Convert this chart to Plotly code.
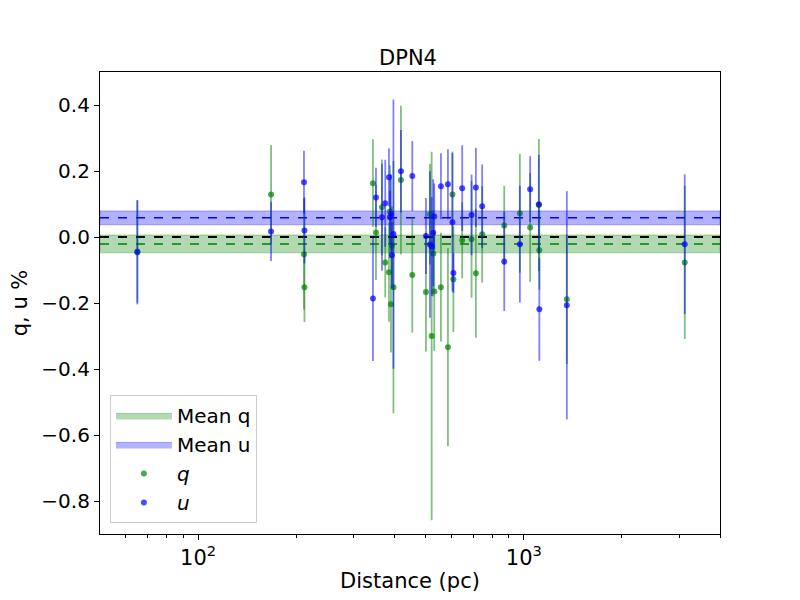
import numpy as np
import plotly.graph_objects as go

# distances (pc) and polarisation values
dist = [65.1, 167.5, 211.4, 212.1, 344.2, 351.6, 366.8, 375.4, 385.4, 388.1,
        390.9, 393.6, 397.8, 419.5, 454.5, 500.6, 514.9, 521.2, 527.1, 530.8,
        556.5, 584.7, 603.5, 607.7, 646.7, 691.0, 712.4, 744.8, 870.5, 972.1,
        1045.5, 1111.8, 1115.6, 1355.0, 3118.0]
q = [-0.044, 0.129, -0.052, -0.152, 0.163, 0.014, 0.090, -0.077, -0.107, 0.077,
     -0.204, -0.026, -0.152, 0.173, -0.115, -0.167, 0.069, -0.300, -0.050, -0.165,
     -0.152, -0.334, 0.129, -0.128, -0.010, -0.007, -0.110, 0.008, 0.035, 0.072,
     0.029, 0.097, -0.040, -0.189, -0.077]
q_err = [0.155, 0.150, 0.168, 0.106, 0.133, 0.144, 0.145, 0.106, 0.150, 0.140,
         0.146, 0.120, 0.382, 0.225, 0.175, 0.180, 0.152, 0.558, 0.130, 0.180,
         0.165, 0.300, 0.130, 0.160, 0.115, 0.177, 0.195, 0.146, 0.120, 0.180,
         0.165, 0.200, 0.120, 0.196, 0.232]
u = [-0.046, 0.017, 0.166, 0.020, -0.186, 0.120, 0.060, 0.102, 0.181, 0.060,
     0.070, -0.055, 0.009, 0.199, 0.185, 0.003, -0.023, -0.029, 0.013, 0.062,
     0.154, 0.160, 0.045, -0.109, 0.148, 0.067, 0.150, 0.093, -0.074, -0.022,
     0.145, 0.099, -0.219, -0.207, -0.022]
u_err = [0.158, 0.090, 0.095, 0.100, 0.190, 0.090, 0.162, 0.132, 0.088, 0.080,
         0.120, 0.100, 0.408, 0.125, 0.106, 0.115, 0.222, 0.150, 0.162, 0.100,
         0.100, 0.106, 0.210, 0.060, 0.130, 0.122, 0.120, 0.127, 0.150, 0.177,
         0.100, 0.150, 0.156, 0.346, 0.212]

mean_q, mean_q_err = -0.021, 0.027
mean_u, mean_u_err = 0.058, 0.021
x_lim = [50, 4000]
y_lim = [-0.9, 0.5]

fig = go.Figure()

# mean bands (axhspan look-alike)
for m, e, rgb, name, rank in [(mean_q, mean_q_err, "0,128,0", "Mean q", 1),
                               (mean_u, mean_u_err, "0,0,255", "Mean u", 2)]:
    fig.add_trace(go.Scatter(
        x=[x_lim[0], x_lim[1], x_lim[1], x_lim[0], x_lim[0]],
        y=[m - e, m - e, m + e, m + e, m - e],
        mode="lines", fill="toself",
        fillcolor="rgba(%s,0.3)" % rgb,
        line=dict(color="rgba(%s,0.3)" % rgb, width=1),
        name=name, legendrank=rank, hoverinfo="skip"))

# dashed lines
fig.add_trace(go.Scatter(x=x_lim, y=[0, 0], mode="lines",
                         line=dict(color="black", dash="dash", width=1.8),
                         showlegend=False))
fig.add_trace(go.Scatter(x=x_lim, y=[mean_q, mean_q], mode="lines",
                         line=dict(color="green", dash="dash", width=1.5),
                         showlegend=False))
fig.add_trace(go.Scatter(x=x_lim, y=[mean_u, mean_u], mode="lines",
                         line=dict(color="blue", dash="dash", width=1.5),
                         showlegend=False))

# data points with error bars
fig.add_trace(go.Scatter(
    x=dist, y=q, mode="markers", name="<i>q</i>", legendrank=3,
    marker=dict(color="rgba(0,128,0,0.7)", size=6),
    error_y=dict(type="data", array=q_err, color="rgba(0,128,0,0.5)",
                 thickness=1.8, width=0)))
fig.add_trace(go.Scatter(
    x=dist, y=u, mode="markers", name="<i>u</i>", legendrank=4,
    marker=dict(color="rgba(0,0,255,0.7)", size=6),
    error_y=dict(type="data", array=u_err, color="rgba(0,0,255,0.5)",
                 thickness=1.8, width=0)))

minor_vals = [60, 70, 80, 90, 200, 300, 400, 500, 600, 700, 800, 900,
              2000, 3000, 4000]

# page body has an 8px offset, margins compensate for it
fig.update_layout(
    width=800, height=600,
    margin=dict(l=92, r=88, t=64, b=74),
    paper_bgcolor="white", plot_bgcolor="white",
    font=dict(family="DejaVu Sans", size=17.5, color="black"),
    title=dict(text="DPN4", x=0.5, xanchor="center", y=0.918, yanchor="middle",
               yref="container", font=dict(size=21)),
    legend=dict(x=0.016, y=0.024, xanchor="left", yanchor="bottom",
                bgcolor="white", bordercolor="#cccccc", borderwidth=1,
                font=dict(size=20), tracegroupgap=2, itemwidth=56),
    showlegend=True,
)
fig.update_xaxes(
    type="log", range=[np.log10(x_lim[0]), np.log10(x_lim[1])],
    tickvals=[100, 1000], ticktext=["10<sup>2</sup>", "10<sup>3</sup>"],
    ticks="outside", ticklen=5, tickcolor="black",
    minor=dict(tickvals=minor_vals, ticks="outside", ticklen=3,
               tickcolor="black"),
    showline=True, linecolor="black", linewidth=1.2, mirror=True,
    showgrid=False, zeroline=False, automargin=False,
    title=dict(text="Distance (pc)", standoff=4), tickfont=dict(size=21))
fig.update_yaxes(
    range=y_lim, tickvals=[-0.8, -0.6, -0.4, -0.2, 0.0, 0.2, 0.4],
    tickformat=".1f", ticks="outside", ticklen=5, tickcolor="black",
    showline=True, linecolor="black", linewidth=1.2, mirror=True,
    showgrid=False, zeroline=False, automargin=False,
    title=dict(text="q, u %", standoff=10), tickfont=dict(size=20))

fig.write_html("out.html")
